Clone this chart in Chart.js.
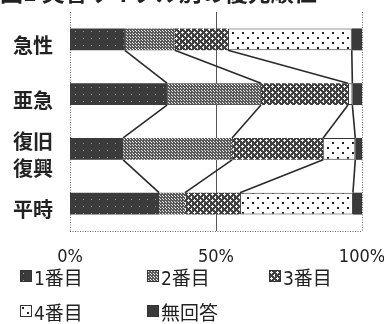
<!DOCTYPE html>
<html><head><meta charset="utf-8">
<script src="https://cdn.jsdelivr.net/npm/chart.js@4.4.1/dist/chart.umd.min.js"></script>
<style>
html,body{margin:0;padding:0;background:#fff;}
#wrap{position:relative;width:384px;height:324px;overflow:hidden;background:#fff;}
#title{position:absolute;left:0;top:-26px;font:bold 23px "Noto Sans CJK JP";color:#222;white-space:nowrap;}
#cbox{position:absolute;left:0;top:0;width:384px;height:268px;}
.lg{position:absolute;font:19px "DejaVu Sans",  "Noto Sans CJK JP";font-stretch:condensed;color:#222;display:flex;align-items:center;white-space:nowrap;height:22px;}
.lg canvas{margin-right:2px;}
</style></head>
<body><div id="wrap">
<div id="cbox"><canvas id="c" width="384" height="268"></canvas></div>
<div id="title">図1 災害サイクル別の優先順位</div>
<div id="legend"></div>
</div>
<script>
const categories = ['急性', '亜急', ['復旧', '復興'], '平時'];
const seriesNames = ['1番目', '2番目', '3番目', '4番目', '無回答'];
const first    = [18.8, 33.2, 18.2, 30.5];
const second   = [17.1, 32.2, 37.3, 8.9];
const third    = [18.2, 29.8, 31.2, 18.8];
const fourth   = [42.4, 1.5, 11.0, 38.7];
const noAnswer = [3.5, 3.3, 2.3, 3.1];
const xTicks = [0, 50, 100];

function makePattern(w, h, bg, draw) {
  const c = document.createElement('canvas'); c.width = w; c.height = h;
  const g = c.getContext('2d'); g.fillStyle = bg; g.fillRect(0, 0, w, h);
  draw(g); return c;
}
const pc1 = makePattern(8, 7, '#3b3b3b', g => { g.fillStyle = '#9a9a9a'; g.fillRect(3, 3, 1, 1); });
const pc2 = makePattern(3, 3, '#5a5a5a', g => { g.fillStyle = '#e8e8e8'; g.fillRect(1, 1, 1, 1); g.fillRect(0,0,1,1); });
const pc3 = makePattern(6, 6, '#404040', g => { g.fillStyle = '#f0f0f0';
  g.fillRect(2, 1, 1, 3); g.fillRect(1, 2, 3, 1); g.fillRect(5, 4, 1, 3); g.fillRect(4,5,3,1); g.fillRect(5,-2,1,3); });
const pc4 = makePattern(10, 10, '#ffffff', g => { g.fillStyle = '#222'; g.fillRect(2, 2, 2, 2); g.fillRect(7, 7, 2, 2); });
const pc5 = makePattern(2, 2, '#3a3a3a', g => {});
const ctx = document.getElementById('c').getContext('2d');
const pats = [pc1, pc2, pc3, pc4, pc5].map(p => ctx.createPattern(p, 'repeat'));
const values = [first, second, third, fourth, noAnswer];

const gridPlugin = {
  id: 'grid',
  beforeDraw(chart) { chart.ctx.fontStretch = 'condensed'; },
  beforeDatasetsDraw(chart) {
    const x = chart.scales.x, a = chart.chartArea, g = chart.ctx;
    g.save();
    xTicks.forEach(v => {
      const px = Math.round(x.getPixelForValue(v)) + 0.5;
      g.beginPath();
      g.strokeStyle = v === 50 ? '#555' : '#666';
      g.lineWidth = 1;
      g.setLineDash(v === 50 ? [] : [1, 1.5]);
      g.moveTo(px, a.top); g.lineTo(px, a.bottom); g.stroke();
    });
    g.beginPath(); g.setLineDash([1, 1.5]); g.strokeStyle = '#666';
    g.moveTo(a.left, a.bottom + 0.5); g.lineTo(a.right, a.bottom + 0.5); g.stroke();
    g.restore();
  },
  afterDatasetsDraw(chart) {
    const g = chart.ctx;
    g.save(); g.strokeStyle = '#2a2a2a'; g.lineWidth = 1.6; g.setLineDash([]);
    for (let d = 0; d < 4; d++) {
      const els = chart.getDatasetMeta(d).data;
      for (let i = 0; i < els.length - 1; i++) {
        const a = els[i], b = els[i + 1];
        g.beginPath();
        g.moveTo(a.x, a.y + a.height / 2);
        g.lineTo(b.x, b.y - b.height / 2);
        g.stroke();
      }
    }
    g.restore();
  }
};

new Chart(ctx, {
  type: 'bar',
  data: {
    labels: categories,
    datasets: seriesNames.map((n, i) => ({
      label: n, data: values[i], backgroundColor: pats[i],
      borderColor: '#333', borderWidth: i === 3 ? 1 : 0, borderSkipped: false,
      barPercentage: 0.4, categoryPercentage: 1
    }))
  },
  options: {
    indexAxis: 'y', responsive: false, animation: false,
    layout: { padding: { left: 13, right: 22, top: 12, bottom: 0 } },
    plugins: { legend: { display: false }, tooltip: { enabled: false } },
    scales: {
      x: {
        stacked: true, min: 0, max: 100,
        afterBuildTicks: s => { s.ticks = xTicks.map(v => ({ value: v })); },
        afterFit: s => { s.height = 37; s.paddingLeft = 0; s.paddingRight = 0; },
        grid: { display: false }, border: { display: false },
        ticks: { callback: v => v + '%', color: '#222', padding: 8, maxRotation: 0,
          font: { family: '"DejaVu Sans Condensed", "DejaVu Sans"', size: 18 } }
      },
      y: {
        stacked: true,
        afterFit: s => { s.width = 57; s.paddingTop = 0; s.paddingBottom = 0; },
        grid: { display: false }, border: { display: false },
        ticks: { color: '#222', crossAlign: 'far', labelOffset: 6, autoSkip: false,
          font: { family: '"Noto Sans CJK JP"', size: 20, weight: 'bold', lineHeight: 1.35 } }
      }
    }
  },
  plugins: [gridPlugin]
});

// legend
const lgPos = [[20, 265], [147, 265], [269, 265], [20, 300], [147, 300]];
const lgEl = document.getElementById('legend');
seriesNames.forEach((n, i) => {
  const d = document.createElement('div'); d.className = 'lg';
  d.style.left = lgPos[i][0] + 'px'; d.style.top = lgPos[i][1] + 'px';
  const sw = document.createElement('canvas'); sw.width = 12; sw.height = 12;
  const sg = sw.getContext('2d');
  sg.fillStyle = sg.createPattern([pc1, pc2, pc3, pc4, pc5][i], 'repeat'); sg.fillRect(0, 0, 12, 12);
  sg.strokeStyle = '#333'; sg.lineWidth = 1; sg.strokeRect(0.5, 0.5, 11, 11);
  d.appendChild(sw);
  const t = document.createElement('span'); t.textContent = n; d.appendChild(t);
  lgEl.appendChild(d);
});
</script>
</body></html>
